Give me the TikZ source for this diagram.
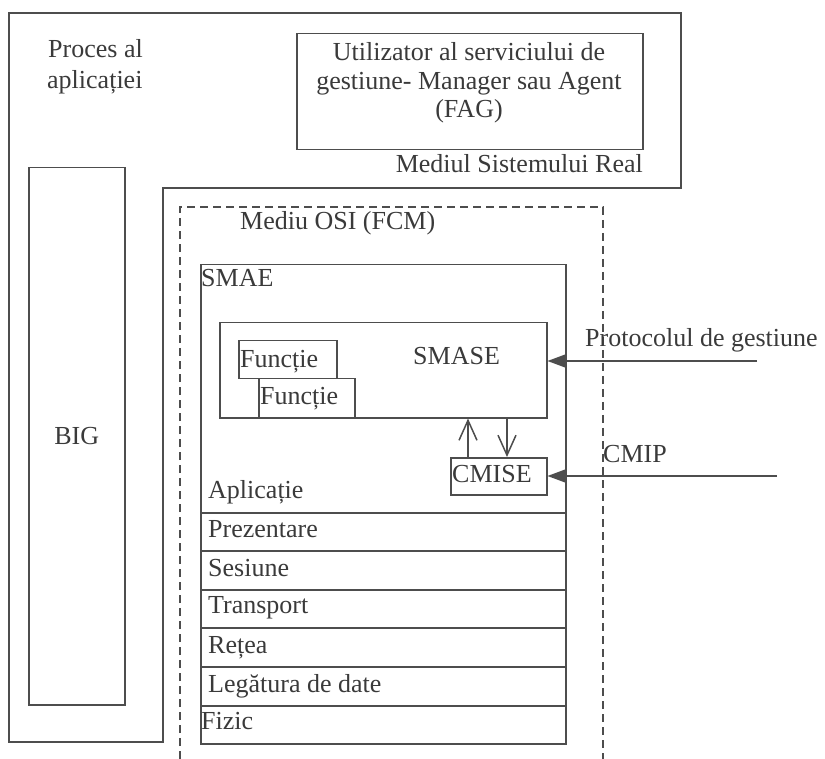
\documentclass[tikz,border=0pt]{standalone}
\usepackage{fontspec}
\setmainfont{Liberation Serif}
\usetikzlibrary{arrows.meta}
\definecolor{ln}{HTML}{4D4D4D}
\definecolor{tx}{HTML}{3A3A3A}
\begin{document}
\begin{tikzpicture}[x=1pt,y=-1pt,
  line/.style={draw=ln, line width=1.5pt},
  box/.style={line, rectangle, inner sep=0pt, anchor=north west},
  lbl/.style={text=tx, font=\fontsize{26}{29}\selectfont, inner sep=0pt},
  filledtip/.style={-{Triangle[length=18pt,width=13pt]}},
  barbtip/.style={-{Straight Barb[length=20pt,width=18pt]}},
  dashedline/.style={line, dash pattern=on 8pt off 5pt}
  ]
\useasboundingbox (0,0) rectangle (825,759);

% outer real-system environment (L shape)
\draw[line] (9,13) -- (681,13) -- (681,188) -- (163,188) -- (163,742) -- (9,742) -- cycle;
\node[lbl, anchor=base west] (proc1) at (48,58) {Proces al};
\node[lbl, anchor=base west] (proc2) at (47,89) {aplicației};

% FAG box
\node[box, minimum width=346pt, minimum height=116pt] (fag) at (296,33) {};
\node[lbl, anchor=base] (fag1) at (469,61) {Utilizator al serviciului de};
\node[lbl, anchor=base] (fag2) at (469,90) {gestiune- Manager sau Agent};
\node[lbl, anchor=base] (fag3) at (469,118) {(FAG)};
\node[lbl, anchor=base east] (msr) at (643,173) {Mediul Sistemului Real};

% BIG
\node[box, minimum width=96pt, minimum height=537pt] (big) at (28,167) {};
\node[lbl] (bigt) at (big.center) {BIG};

% OSI environment (dashed)
\draw[dashedline] (180,759) -- (180,207) -- (603,207) -- (603,759);
\node[lbl, anchor=base west] (osi) at (240,230) {Mediu OSI (FCM)};

% SMAE
\node[box, minimum width=365pt, minimum height=479pt] (smae) at (200,264) {};
\node[lbl, anchor=base west] (smaet) at (201,287) {SMAE};

% SMASE
\node[box, minimum width=327pt, minimum height=95pt] (smase) at (219,322) {};
\node[lbl, anchor=base west] (smaset) at (413,365) {SMASE};
\node[box, minimum width=98pt, minimum height=38pt] (f1) at (238,340) {};
\node[lbl, anchor=base west] (f1t) at (240,367) {Funcție};
\node[box, fill=white, minimum width=96pt, minimum height=39pt] (f2) at (258,378) {};
\node[lbl, anchor=base west] (f2t) at (260,405) {Funcție};

% CMISE
\node[box, minimum width=96pt, minimum height=37pt] (cmise) at (450,457) {};
\node[lbl, anchor=base west] (cmiset) at (452,482) {CMISE};

% vertical arrows between CMISE and SMASE
\coordinate (upx) at (468,0);
\coordinate (dnx) at (507,0);
\draw[line, barbtip] (cmise.north -| upx) -- (smase.south -| upx);
\draw[line, barbtip] (smase.south -| dnx) -- (cmise.north -| dnx);

% external protocol arrows
\coordinate (pg) at (757,361);
\coordinate (cm) at (777,476);
\draw[line, filledtip] (pg) -- (smase.east |- pg);
\draw[line, filledtip] (cm) -- (cmise.east |- cm);
\node[lbl, anchor=base west] (pgt) at (585,347) {Protocolul de gestiune};
\node[lbl, anchor=base west] (cmt) at (603,462) {CMIP};

% layers
\foreach \yy in {513,551,590,628,667,706}{
  \draw[line] (smae.west |- 0,\yy) -- (smae.east |- 0,\yy);
}
\node[lbl, anchor=base west] (l7) at (208,498) {Aplicație};
\node[lbl, anchor=base west] (l6) at (208,537) {Prezentare};
\node[lbl, anchor=base west] (l5) at (208,576) {Sesiune};
\node[lbl, anchor=base west] (l4) at (208,613) {Transport};
\node[lbl, anchor=base west] (l3) at (208,653) {Rețea};
\node[lbl, anchor=base west] (l2) at (208,692) {Legătura de date};
\node[lbl, anchor=base west] (l1) at (201,729) {Fizic};
\end{tikzpicture}
\end{document}
